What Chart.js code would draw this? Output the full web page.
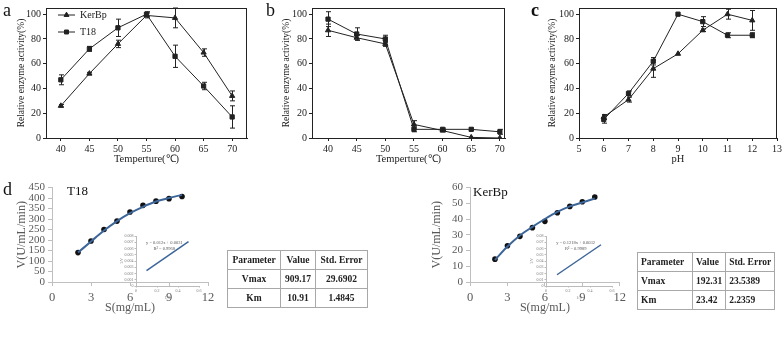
<!DOCTYPE html>
<html>
<head>
<meta charset="utf-8">
<script src="https://cdn.jsdelivr.net/npm/chart.js@4.4.1/dist/chart.umd.min.js"></script>
<style>
  body { margin: 0; background: #fff; }
  #page { position: relative; width: 784px; height: 342px; overflow: hidden; font-family: "Liberation Serif", serif; }
  .cv { position: absolute; }
  .letter { position: absolute; font-size: 18px; color: #111; line-height: 1; }
  .name { position: absolute; font-size: 13px; color: #111; line-height: 1; }
  table { position: absolute; border-collapse: collapse; font: bold 9.5px "Liberation Serif", serif; color: #222; }
  td { border: 1px solid #a8a8a8; height: 18px; padding: 0 3px; white-space: nowrap; }
  #tab1 td { text-align: center; }
  #tab2 td { text-align: left; }
</style>
</head>
<body>
<div id="page">
  <div class="cv" style="left:0;top:0;width:255px;height:170px"><canvas id="chartA"></canvas></div>
  <div class="cv" style="left:255px;top:0;width:260px;height:170px"><canvas id="chartB"></canvas></div>
  <div class="cv" style="left:520px;top:0;width:264px;height:170px"><canvas id="chartC"></canvas></div>
  <div class="cv" style="left:0;top:170px;width:220px;height:172px"><canvas id="chartD1"></canvas></div>
  <div class="cv" style="left:400px;top:170px;width:230px;height:172px"><canvas id="chartD2"></canvas></div>
  <div class="cv" style="left:120px;top:228px;width:85px;height:72px"><canvas id="insetD1"></canvas></div>
  <div class="cv" style="left:530px;top:228px;width:88px;height:72px"><canvas id="insetD2"></canvas></div>

  <div class="letter" style="left:3px;top:1px">a</div>
  <div class="letter" style="left:266px;top:1px">b</div>
  <div class="letter" style="left:531px;top:1px;font-weight:bold">c</div>
  <div class="letter" style="left:3px;top:180px">d</div>
  <div class="name" style="left:67px;top:184px">T18</div>
  <div class="name" style="left:473px;top:185px">KerBp</div>

  <table id="tab1" style="left:227px;top:250px">
    <tr><td style="width:46px">Parameter</td><td style="width:28px">Value</td><td style="width:45px">Std. Error</td></tr>
    <tr><td>Vmax</td><td>909.17</td><td>29.6902</td></tr>
    <tr><td>Km</td><td>10.91</td><td>1.4845</td></tr>
  </table>
  <table id="tab2" style="left:637px;top:252px">
    <tr><td style="width:48px">Parameter</td><td style="width:26px">Value</td><td style="width:42px">Std. Error</td></tr>
    <tr><td>Vmax</td><td>192.31</td><td>23.5389</td></tr>
    <tr><td>Km</td><td>23.42</td><td>2.2359</td></tr>
  </table>
</div>

<script>
// a: optimum temperature
const tempTicks = [40, 45, 50, 55, 60, 65, 70];
const optT18 = [47, 72, 89, 100, 66, 42, 17];
const optT18Err = [4, 2, 7, 2, 9, 3, 9];
const optKer = [26, 52, 76, 99, 97, 69, 34];
const optKerErr = [1, 1, 3, 2, 8, 3, 4];

// b: thermal stability
const stabT18 = [96, 84, 80, 7, 7, 7, 5];
const stabT18Err = [6, 5, 3, 2, 1, 1, 2];
const stabKer = [87, 81, 76, 11, 6, 0.5, 0];
const stabKerErr = [5, 2, 2, 3, 1, 0, 0];

// c: pH
const phPoints = [6, 7, 8, 9, 10, 11, 12];
const phTicks = [5, 6, 7, 8, 9, 10, 11, 12, 13];
const phT18 = [15, 36, 62, 100, 94, 83, 83];
const phT18Err = [3, 2, 3, 0, 4, 2, 2];
const phKer = [17, 31, 56, 68, 87, 100, 95];
const phKerErr = [2, 2, 7, 0, 1, 4, 8];
const activityTicks = [0, 20, 40, 60, 80, 100];

// d: kinetics
const substrate = [2, 3, 4, 5, 6, 7, 8, 9, 10];
const sTicks = [0, 3, 6, 9, 12];
const kinT18 = [140, 195, 250, 290, 333, 365, 385, 397, 407];
const fitT18 = [140, 193, 245, 290, 328, 358, 383, 400, 415];
const kinKer = [14.5, 23, 29, 34.5, 38.5, 44, 48, 51, 54];
const fitKer = [14, 22.5, 29.5, 35, 40, 44.5, 48, 50.5, 53];
const vTicksT18 = [0, 50, 100, 150, 200, 250, 300, 350, 400, 450];
const vTicksKer = [0, 10, 20, 30, 40, 50, 60];

// double reciprocal insets
const invS = [0.1, 0.5];
const invVT18 = [0.00245, 0.0071];
const invVKer = [0.018, 0.066];
const invSTicks = [0, 0.2, 0.4, 0.6];
const invVTicksT18 = [0, 0.001, 0.002, 0.003, 0.004, 0.005, 0.006, 0.007, 0.008];
const invVTicksKer = [0, 0.01, 0.02, 0.03, 0.04, 0.05, 0.06, 0.07, 0.08];

const serif = '"Liberation Serif", serif';

function pts(xs, ys) {
  return xs.map((x, i) => ({ x: x, y: ys[i] }));
}

const errorBars = {
  id: 'errorBars',
  afterDatasetsDraw(chart) {
    const { ctx, scales: { x, y } } = chart;
    ctx.save();
    ctx.strokeStyle = '#222';
    ctx.lineWidth = 1;
    chart.data.datasets.forEach(ds => {
      if (!ds.err) return;
      ds.data.forEach((p, j) => {
        const e = ds.err[j];
        if (!e) return;
        const px = Math.round(x.getPixelForValue(p.x)) + 0.5;
        const t = y.getPixelForValue(p.y + e);
        const b = y.getPixelForValue(p.y - e);
        ctx.beginPath();
        ctx.moveTo(px, t); ctx.lineTo(px, b);
        ctx.moveTo(px - 2.5, t); ctx.lineTo(px + 2.5, t);
        ctx.moveTo(px - 2.5, b); ctx.lineTo(px + 2.5, b);
        ctx.stroke();
      });
    });
    ctx.restore();
  }
};

const frame = {
  id: 'frame',
  afterDraw(chart) {
    const a = chart.chartArea, ctx = chart.ctx;
    ctx.save();
    ctx.strokeStyle = '#222';
    ctx.lineWidth = 1;
    ctx.strokeRect(Math.round(a.left) + 0.5, Math.round(a.top) + 0.5, Math.round(a.width) - 1, Math.round(a.height));
    ctx.restore();
  }
};

const legendA = {
  id: 'legendA',
  afterDraw(chart) {
    const ctx = chart.ctx;
    const rows = [['KerBp', 'triangle', 15], ['T18', 'rect', 32]];
    ctx.save();
    ctx.font = '10px ' + serif;
    ctx.fillStyle = '#222';
    ctx.strokeStyle = '#222';
    ctx.textBaseline = 'middle';
    rows.forEach(r => {
      ctx.beginPath();
      ctx.moveTo(58, r[2]); ctx.lineTo(75, r[2]);
      ctx.stroke();
      Chart.helpers.drawPoint(ctx, { pointStyle: r[1], radius: 2.8, borderWidth: 1 }, 66.5, r[2]);
      ctx.fill();
      ctx.fillText(r[0], 80, r[2]);
    });
    ctx.restore();
  }
};

function fixTicks(list) {
  return s => { s.ticks = list.map(v => ({ value: v })); };
}

function enzymeChart(id, xMin, xMax, xTicks, xTitle, yWidth, yTitlePad, padRight, s1, s2, extra) {
  return new Chart(document.getElementById(id), {
    type: 'line',
    data: {
      datasets: [
        { data: s1.data, err: s1.err, pointStyle: 'rect', pointRadius: 3, borderColor: '#222', backgroundColor: '#222', borderWidth: 1, tension: 0 },
        { data: s2.data, err: s2.err, pointStyle: 'triangle', pointRadius: 3, borderColor: '#222', backgroundColor: '#222', borderWidth: 1, tension: 0 }
      ]
    },
    options: {
      responsive: true,
      maintainAspectRatio: false,
      animation: false,
      layout: { padding: { top: 5, right: padRight, left: 0, bottom: 0 } },
      plugins: { legend: { display: false }, tooltip: { enabled: false } },
      scales: {
        x: {
          type: 'linear', min: xMin, max: xMax,
          afterBuildTicks: fixTicks(xTicks),
          afterFit: s => { s.height = 32; },
          grid: { drawOnChartArea: false, drawTicks: true, tickLength: 3, color: '#222' },
          border: { color: '#222' },
          ticks: { color: '#222', font: { family: serif, size: 10 }, padding: 2, maxRotation: 0, autoSkip: false },
          title: { display: true, text: xTitle, color: '#222', font: { family: serif, size: 10.5 }, padding: { top: 0, bottom: 4 } }
        },
        y: {
          min: 0, max: 105,
          afterBuildTicks: fixTicks(activityTicks),
          afterFit: s => { s.width = yWidth; },
          grid: { drawOnChartArea: false, drawTicks: true, tickLength: 3, color: '#222' },
          border: { color: '#222' },
          ticks: { color: '#222', font: { family: serif, size: 10 }, padding: 2, autoSkip: false },
          title: { display: true, text: 'Relative enzyme activity(%)', color: '#222', font: { family: serif, size: 9.5 }, padding: { top: yTitlePad, bottom: 0 } }
        }
      }
    },
    plugins: [errorBars, frame].concat(extra || [])
  });
}

enzymeChart('chartA', 37.4, 72.6, tempTicks, 'Temperture(\u2103)', 46, 16, 8,
  { data: pts(tempTicks, optT18), err: optT18Err },
  { data: pts(tempTicks, optKer), err: optKerErr }, [legendA]);

enzymeChart('chartB', 37.2, 70.9, tempTicks, 'Temperture(\u2103)', 57, 26, 10,
  { data: pts(tempTicks, stabT18), err: stabT18Err },
  { data: pts(tempTicks, stabKer), err: stabKerErr });

enzymeChart('chartC', 5, 13, phTicks, 'pH', 59, 27, 5,
  { data: pts(phPoints, phT18), err: phT18Err },
  { data: pts(phPoints, phKer), err: phKerErr });

function kineticChart(id, dots, fit, vMax, vTicks, yWidth, yTitlePad, padRight) {
  return new Chart(document.getElementById(id), {
    type: 'line',
    data: {
      datasets: [
        { data: pts(substrate, fit), borderColor: '#3c659a', borderWidth: 2, pointRadius: 0, tension: 0.4, cubicInterpolationMode: 'monotone' },
        { data: pts(substrate, dots), showLine: false, pointRadius: 2.8, borderWidth: 0, pointStyle: 'circle', backgroundColor: '#111', borderColor: '#111' }
      ]
    },
    options: {
      responsive: true,
      maintainAspectRatio: false,
      animation: false,
      layout: { padding: { top: 17.5, right: padRight, left: 0, bottom: 0 } },
      plugins: { legend: { display: false }, tooltip: { enabled: false } },
      scales: {
        x: {
          type: 'linear', min: 0, max: 12,
          afterBuildTicks: fixTicks(sTicks),
          afterFit: s => { s.height = 60; },
          grid: { drawOnChartArea: false, drawTicks: true, tickLength: 4, color: '#bfbfbf' },
          border: { color: '#bfbfbf' },
          ticks: { color: '#595959', font: { family: serif, size: 12.5 }, padding: 4, maxRotation: 0, autoSkip: false },
          title: { display: true, text: 'S(mg/mL)', color: '#595959', font: { family: serif, size: 12 }, padding: { top: 0, bottom: 27 } }
        },
        y: {
          min: 0, max: vMax,
          afterBuildTicks: fixTicks(vTicks),
          afterFit: s => { s.width = yWidth; },
          grid: { drawOnChartArea: false, drawTicks: true, tickLength: 4, color: '#bfbfbf' },
          border: { color: '#bfbfbf' },
          ticks: { color: '#595959', font: { family: serif, size: 11 }, padding: 3, autoSkip: false },
          title: { display: true, text: 'V(U/mL/min)', color: '#595959', font: { family: serif, size: 12 }, padding: { top: yTitlePad, bottom: 0 } }
        }
      }
    }
  });
}

kineticChart('chartD1', kinT18, fitT18, 450, vTicksT18, 52, 15, 12);
kineticChart('chartD2', kinKer, fitKer, 60, vTicksKer, 70, 30, 7);

function insetChart(id, ys, yTicks, yMax, eq, r2, yWidth) {
  const label = {
    id: 'eqLabel',
    afterDraw(chart) {
      const ctx = chart.ctx, a = chart.chartArea;
      ctx.save();
      ctx.font = '4.5px ' + serif;
      ctx.fillStyle = '#555';
      ctx.textAlign = 'center';
      ctx.fillText(eq, a.left + a.width * 0.45, a.top + 8);
      ctx.fillText(r2, a.left + a.width * 0.45, a.top + 14);
      ctx.restore();
    }
  };
  return new Chart(document.getElementById(id), {
    type: 'line',
    data: {
      datasets: [{ data: pts(invS, ys), borderColor: '#3c659a', borderWidth: 1.5, pointRadius: 0 }]
    },
    options: {
      responsive: true,
      maintainAspectRatio: false,
      animation: false,
      layout: { padding: { top: 8, right: 6, left: 0, bottom: 0 } },
      plugins: { legend: { display: false }, tooltip: { enabled: false } },
      scales: {
        x: {
          type: 'linear', min: 0, max: 0.6,
          afterBuildTicks: fixTicks(invSTicks),
          afterFit: s => { s.height = 14; },
          grid: { drawOnChartArea: false, drawTicks: true, tickLength: 1.5, color: '#bbb' },
          border: { color: '#bbb' },
          ticks: { color: '#777', font: { family: serif, size: 4 }, padding: 1, maxRotation: 0, autoSkip: false },
          title: { display: true, text: '1/S', color: '#777', font: { family: serif, size: 4 }, padding: 0 }
        },
        y: {
          min: 0, max: yMax,
          afterBuildTicks: fixTicks(yTicks),
          afterFit: s => { s.width = yWidth; },
          grid: { drawOnChartArea: false, drawTicks: true, tickLength: 1.5, color: '#bbb' },
          border: { color: '#bbb' },
          ticks: { color: '#777', font: { family: serif, size: 4 }, padding: 1, autoSkip: false },
          title: { display: true, text: '1/V', color: '#777', font: { family: serif, size: 4 }, padding: 0 }
        }
      }
    },
    plugins: [label]
  });
}

insetChart('insetD1', invVT18, invVTicksT18, 0.008, 'y = 0.012x + 0.0031', 'R\u00b2 = 0.9968', 16);
insetChart('insetD2', invVKer, invVTicksKer, 0.08, 'y = 0.1218x + 0.0032', 'R\u00b2 = 0.9989', 16);
</script>
</body>
</html>
